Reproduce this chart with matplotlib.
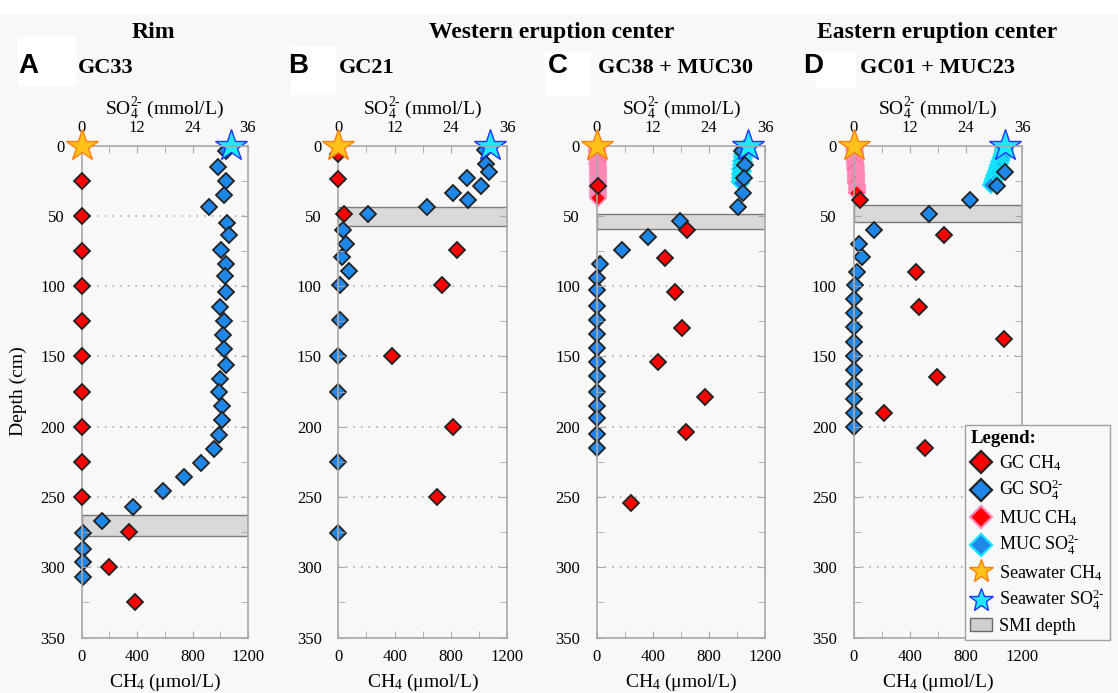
import matplotlib
matplotlib.use('Agg')
import matplotlib.pyplot as plt
from matplotlib.lines import Line2D
from matplotlib.patches import Patch, Rectangle
from matplotlib.ticker import MultipleLocator

plt.rcParams['font.family'] = ['Liberation Serif', 'DejaVu Serif']
plt.rcParams['mathtext.fontset'] = 'custom'
plt.rcParams['mathtext.rm'] = 'Liberation Serif'
plt.rcParams['mathtext.it'] = 'Liberation Serif:italic'
plt.rcParams['mathtext.bf'] = 'Liberation Serif:bold'

# ---------------- data ----------------
# Panel A: GC33 (Rim)
a_ch4_depth = [25, 50, 75, 100, 125, 150, 175, 200, 225, 250, 275, 300, 325]
a_ch4 = [0, 0, 0, 0, 0, 0, 0, 0, 0, 0, 340, 197, 385]
a_so4_depth = [4, 15, 25, 35, 44, 55, 64, 74, 84, 93, 104, 115, 125, 135, 145, 156,
               166, 175, 185, 195, 206, 216, 226, 236, 246, 257, 267, 276, 287, 296, 307]
a_so4 = [31.2, 29.6, 31.2, 30.8, 27.6, 31.5, 31.9, 30.1, 31.2, 31.0, 31.2, 29.9, 30.9,
         30.6, 30.9, 31.2, 29.9, 29.8, 30.4, 30.4, 29.8, 28.6, 25.8, 22.1, 17.5, 11.2,
         4.5, 0.35, 0.35, 0.2, 0.2]
a_smi = (263, 278)

# Panel B: GC21
b_ch4_depth = [6, 24, 49, 74, 99, 150, 200, 250]
b_ch4 = [0, 0, 40, 840, 738, 379, 817, 703]
b_so4_depth = [3, 13, 19, 23, 29, 34, 39, 44, 49, 60, 70, 79, 89, 99, 124, 150, 175, 225, 276]
b_so4 = [31.2, 31.4, 32.1, 27.4, 30.5, 24.4, 27.7, 19.0, 6.4, 1.0, 1.6, 0.7, 2.3, 0.4,
         0.4, 0.0, 0.0, 0.0, 0.0]
b_smi = (43.5, 57)

# Panel C: GC38 + MUC30
c_ch4_depth = [29, 60, 80, 104, 130, 154, 179, 204, 254]
c_ch4 = [11, 642, 487, 558, 606, 439, 772, 637, 242]
c_so4_depth = [4, 14, 23, 34, 44, 54, 65, 74, 84, 94, 103, 114, 124, 134, 144, 154,
               164, 175, 185, 194, 205, 215]
c_so4 = [31.1, 31.7, 31.4, 31.2, 30.1, 17.8, 10.9, 5.3, 0.8, 0.1, 0.1, 0.1, 0.1, 0.1,
         0.1, 0.0, 0.1, 0.1, 0.1, 0.1, 0.0, 0.1]
c_muc_ch4_depth = [1, 2, 3, 4, 5, 6, 7, 8, 9, 10, 11, 12, 13, 14, 15, 16, 17, 18, 19,
                   20, 21, 22, 23, 24, 25, 26, 27, 28, 29, 30, 31, 32, 33, 34, 35, 36, 37]
c_muc_ch4 = [3, 4, 3, 5, 4, 6, 5, 4, 6, 5, 7, 6, 5, 7, 6, 8, 7, 6, 8, 7, 9, 8, 7, 9, 8,
             10, 9, 8, 10, 9, 11, 10, 9, 11, 10, 12, 8]
c_muc_so4_depth = [1, 2, 3, 4, 5, 6, 7, 8, 9, 10, 11, 12, 13, 14, 15, 16, 17, 18, 19,
                   20, 21, 22, 23, 24, 25, 26, 27]
c_muc_so4 = [31.8, 31.4, 32.0, 31.2, 31.7, 31.1, 31.6, 31.0, 31.5, 31.2, 30.9, 31.4,
             31.1, 30.8, 31.3, 31.0, 30.7, 31.2, 30.9, 30.6, 31.1, 30.8, 30.6, 31.0,
             30.7, 30.6, 30.8]
c_smi = (48.7, 59.6)

# Panel D: GC01 + MUC23
d_ch4_depth = [39, 64, 90, 115, 138, 165, 190, 215]
d_ch4 = [46, 640, 445, 468, 1067, 592, 217, 509]
d_so4_depth = [19, 29, 39, 49, 60, 70, 79, 90, 99, 109, 119, 129, 140, 150, 160, 170,
               180, 190, 200]
d_so4 = [32.4, 30.7, 24.9, 16.0, 4.4, 1.2, 1.75, 0.7, 0.3, 0.1, 0.1, 0.1, 0.1, 0.1,
         0.1, 0.1, 0.1, 0.1, 0.1]
d_muc_ch4_depth = [1, 2, 3, 4, 5, 6, 7, 8, 9, 10, 11, 12, 13, 14, 15, 16, 17, 18, 19,
                   20, 21, 22, 23, 24, 25, 26, 27, 28, 29, 30, 31, 32, 33, 34]
d_muc_ch4 = [6, 9, 7, 10, 8, 11, 9, 12, 10, 13, 11, 14, 12, 15, 13, 16, 14, 17, 15, 18,
             16, 19, 17, 20, 18, 21, 20, 23, 22, 25, 24, 27, 26, 28]
d_muc_so4_depth = [1, 2, 3, 4, 5, 6, 7, 8, 9, 10, 11, 12, 13, 14, 15, 16, 17, 18, 19,
                   20, 21, 22, 23, 24, 25, 26, 27, 28]
d_muc_so4 = [32.3, 32.0, 32.4, 31.8, 32.1, 31.6, 31.9, 31.4, 31.7, 31.2, 31.5, 31.0,
             31.3, 30.8, 31.1, 30.6, 30.9, 30.4, 30.7, 30.2, 30.5, 30.0, 30.3, 29.8,
             30.0, 29.6, 29.8, 29.4]
d_smi = (42.3, 54.2)

seawater_ch4 = 0
seawater_so4 = 32.3

panel_letters = ['A', 'B', 'C', 'D']
panel_names = ['GC33', 'GC21', 'GC38 + MUC30', 'GC01 + MUC23']
group_titles = ['Rim', 'Western eruption center', 'Eastern eruption center']

ch4_ticks = [0, 400, 800, 1200]
so4_ticks = [0, 12, 24, 36]
depth_ticks = [0, 50, 100, 150, 200, 250, 300, 350]
grid_depths = [50, 100, 150, 200, 250, 300]

# ---------------- styles ----------------
W, H = 1118, 693
BG = '#f8f8f8'
RED = '#ff0000'
BLUE = '#1f87e8'
EDGE = '#222222'
PINK = '#ff8ab8'
CYAN = '#14e4ff'
GOLD = '#ffc21a'
ORANGE = '#ff7f0e'
STAR_CYAN = '#1fe8ff'
STAR_BLUE = '#2035ff'
SPINE = '#a8a8a8'

fig = plt.figure(figsize=(W / 100, H / 100), dpi=100, facecolor=BG)

def px(x, y):
    return x / W, 1 - y / H

# white patches (as in reference)
for (x0, y0, x1, y1) in [(0, 0, W, 14), (18, 37, 76, 86), (291, 46, 336, 95),
                         (545, 52, 591, 96), (816, 52, 856, 88)]:
    fig.patches.append(Rectangle(px(x0, y1), (x1 - x0) / W, (y1 - y0) / H,
                                 transform=fig.transFigure, facecolor='white',
                                 edgecolor='none', zorder=0))

lefts = [81.7, 338.3, 596.7, 853.5]
widths = [166.3, 169.0, 168.5, 168.8]
top_px, bot_px = 145.5, 637.5

panels = [
    dict(ch4_d=a_ch4_depth, ch4=a_ch4, so4_d=a_so4_depth, so4=a_so4, smi=a_smi),
    dict(ch4_d=b_ch4_depth, ch4=b_ch4, so4_d=b_so4_depth, so4=b_so4, smi=b_smi),
    dict(ch4_d=c_ch4_depth, ch4=c_ch4, so4_d=c_so4_depth, so4=c_so4, smi=c_smi,
         mch4_d=c_muc_ch4_depth, mch4=c_muc_ch4, mso4_d=c_muc_so4_depth, mso4=c_muc_so4),
    dict(ch4_d=d_ch4_depth, ch4=d_ch4, so4_d=d_so4_depth, so4=d_so4, smi=d_smi,
         mch4_d=d_muc_ch4_depth, mch4=d_muc_ch4, mso4_d=d_muc_so4_depth, mso4=d_muc_so4),
]

SO4_LABEL = r'SO$_4^{2\text{-}}$ (mmol/L)'
CH4_LABEL = r'CH$_4$ ($\mathregular{\mu}$mol/L)'

DMS = 8.5
for i, p in enumerate(panels):
    rect = [lefts[i] / W, 1 - bot_px / H, widths[i] / W, (bot_px - top_px) / H]
    ax = fig.add_axes(rect)          # CH4 axis (bottom)
    ax2 = ax.twiny()                 # SO4 axis (top)
    ax.set_zorder(3)
    ax2.set_zorder(2)
    ax.patch.set_visible(False)
    ax2.patch.set_visible(False)

    ax.set_xlim(0, 1200)
    ax2.set_xlim(0, 36)
    ax.set_ylim(350, 0)

    # grid + SMI band on lower axis
    for g in grid_depths:
        ax2.axhline(g, color='#a0a0a0', lw=1.1, ls=(0, (1, 4)), zorder=0)
    ax2.axhspan(p['smi'][0], p['smi'][1], facecolor='#d9d9d9', edgecolor='#7a7a7a',
                lw=1.0, zorder=1)

    # MUC data
    if 'mso4' in p:
        ax2.plot(p['mso4'], p['mso4_d'], ls='none', marker='D', ms=DMS, mfc=BLUE,
                 mec=CYAN, mew=1.3, clip_on=False, zorder=2)
    if 'mch4' in p:
        ax.plot(p['mch4'], p['mch4_d'], ls='none', marker='D', ms=DMS, mfc=RED,
                mec=PINK, mew=1.3, clip_on=False, zorder=2)

    # GC data
    ax2.plot(p['so4'], p['so4_d'], ls='none', marker='D', ms=DMS, mfc=BLUE,
             mec=EDGE, mew=1.3, clip_on=False, zorder=3)
    ax.plot(p['ch4'], p['ch4_d'], ls='none', marker='D', ms=DMS, mfc=RED,
            mec=EDGE, mew=1.3, clip_on=False, zorder=3)

    # seawater stars
    ax2.plot([seawater_so4], [0], ls='none', marker='*', ms=24, mfc=STAR_CYAN,
             mec=STAR_BLUE, mew=1.0, clip_on=False, zorder=5)
    ax.plot([seawater_ch4], [0], ls='none', marker='*', ms=24, mfc=GOLD,
            mec=ORANGE, mew=1.0, clip_on=False, zorder=5)

    # ticks
    ax.set_xticks(ch4_ticks)
    ax.xaxis.set_minor_locator(MultipleLocator(200))
    ax.set_yticks(depth_ticks)
    ax.yaxis.set_minor_locator(MultipleLocator(25))
    ax.tick_params(axis='x', which='both', direction='in', bottom=True, top=False,
                   color=SPINE, labelsize=12, pad=8)
    ax.tick_params(axis='y', which='both', direction='in', left=True, right=True,
                   color=SPINE, labelsize=12, pad=12)
    ax.tick_params(which='major', length=5)
    ax.tick_params(which='minor', length=5)
    ax2.set_xticks(so4_ticks)
    ax2.xaxis.set_minor_locator(MultipleLocator(6))
    ax2.tick_params(axis='x', which='both', direction='in', top=True, bottom=False,
                    color=SPINE, labelsize=12, pad=7, length=5)

    for s in ax.spines.values():
        s.set_color(SPINE)
        s.set_linewidth(1.2)
    for s in ax2.spines.values():
        s.set_visible(False)

    ax.text(0.5, 1 + 37 / 492, SO4_LABEL, transform=ax.transAxes, ha='center',
            va='center', fontsize=14)
    ax.text(0.5, -45 / 492, CH4_LABEL, transform=ax.transAxes, ha='center',
            va='center', fontsize=14)
    if i == 0:
        ax.set_ylabel('Depth (cm)', fontsize=14)
        ax.yaxis.set_label_coords((27 - 81.7) / 166.3, 0.5)

# titles
letter_x = [18.6, 288.6, 548, 803]
name_x = [78, 339, 597.5, 860]
for i in range(4):
    fig.text(*px(letter_x[i], 73), panel_letters[i], family='Liberation Sans',
             weight='bold', fontsize=20, ha='left', va='baseline')
    fig.text(*px(name_x[i], 73), panel_names[i], weight='bold', fontsize=16,
             ha='left', va='baseline')
fig.text(*px(153.5, 38), group_titles[0], weight='bold', fontsize=17, ha='center', va='baseline')
fig.text(*px(552, 38), group_titles[1], weight='bold', fontsize=17, ha='center', va='baseline')
fig.text(*px(937, 38), group_titles[2], weight='bold', fontsize=17, ha='center', va='baseline')

# legend
handles = [
    Line2D([], [], ls='none', marker='D', ms=11, mfc=RED, mec=EDGE, mew=1.6),
    Line2D([], [], ls='none', marker='D', ms=11, mfc=BLUE, mec=EDGE, mew=1.6),
    Line2D([], [], ls='none', marker='D', ms=11, mfc=RED, mec=PINK, mew=1.6),
    Line2D([], [], ls='none', marker='D', ms=11, mfc=BLUE, mec=CYAN, mew=1.6),
    Line2D([], [], ls='none', marker='*', ms=18, mfc=GOLD, mec=ORANGE, mew=1.0),
    Line2D([], [], ls='none', marker='*', ms=18, mfc=STAR_CYAN, mec=STAR_BLUE, mew=1.0),
    Patch(facecolor='#cfcfcf', edgecolor='#6a6a6a', lw=1.0),
]
labels = [r'GC CH$_4$', r'GC SO$_4^{2\text{-}}$', r'MUC CH$_4$', r'MUC SO$_4^{2\text{-}}$',
          r'Seawater CH$_4$', r'Seawater SO$_4^{2\text{-}}$', 'SMI depth']
leg = fig.legend(handles, labels, loc='upper left', bbox_to_anchor=px(965, 425),
                 bbox_transform=fig.transFigure, title='Legend:',
                 title_fontproperties={'weight': 'bold', 'size': 13.5},
                 alignment='left', prop={'size': 13}, frameon=True, fancybox=False,
                 edgecolor='#a0a0a0', facecolor=BG, framealpha=1, borderaxespad=0,
                 labelspacing=0.3, handlelength=1.2, handletextpad=0.4,
                 borderpad=0.3)
leg.set_zorder(10)

fig.savefig('out.png', dpi=100, facecolor=BG)
